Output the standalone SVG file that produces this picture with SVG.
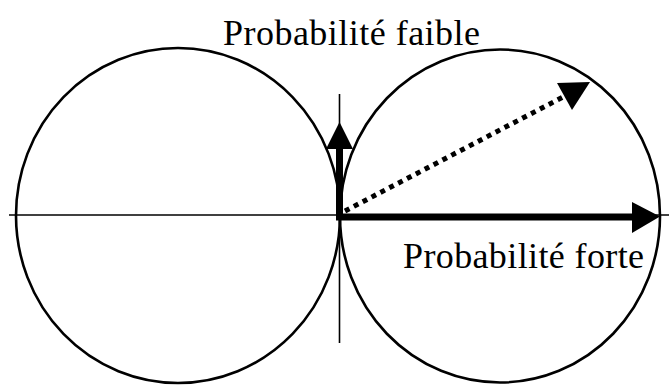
<svg xmlns="http://www.w3.org/2000/svg" width="669" height="386" viewBox="0 0 669 386">
<style>
.c{fill:none;stroke:#000;stroke-width:2.6}
.ax{stroke:#000;stroke-width:1.6;fill:none}
.thick{stroke:#000;stroke-width:7;fill:none}
.dot{stroke:#000;stroke-width:5;stroke-dasharray:5 5;fill:none}
.head{fill:#000}
.lbl{font-family:"Liberation Serif",serif;font-size:36px;fill:#000}
</style>
<rect width="669" height="386" fill="#fff"/>
<g id="left-circle"><ellipse class="c" cx="178" cy="215.5" rx="162" ry="167.5"/></g>
<g id="right-circle"><ellipse class="c" cx="500" cy="216" rx="160" ry="166.5"/></g>
<g id="axes">
<line class="ax" x1="9" y1="215" x2="669" y2="215"/>
<line class="ax" x1="339.5" y1="94" x2="339.5" y2="343"/>
</g>
<g id="connectors">
<line class="thick" x1="339.5" y1="220" x2="339.5" y2="148"/>
<polygon class="head" points="339.5,122 326,149 353,149"/>
<line class="thick" x1="336" y1="217" x2="633" y2="217"/>
<polygon class="head" points="660,216.5 632,202 632,233"/>
<line class="dot" x1="345" y1="211" x2="563" y2="97"/>
<polygon class="head" points="590,82 557,83 572,110"/>
</g>
<g id="label-faible"><text class="lbl" x="223" y="45" textLength="257">Probabilité faible</text></g>
<g id="label-forte"><text class="lbl" x="403" y="268" textLength="241">Probabilité forte</text></g>
</svg>
